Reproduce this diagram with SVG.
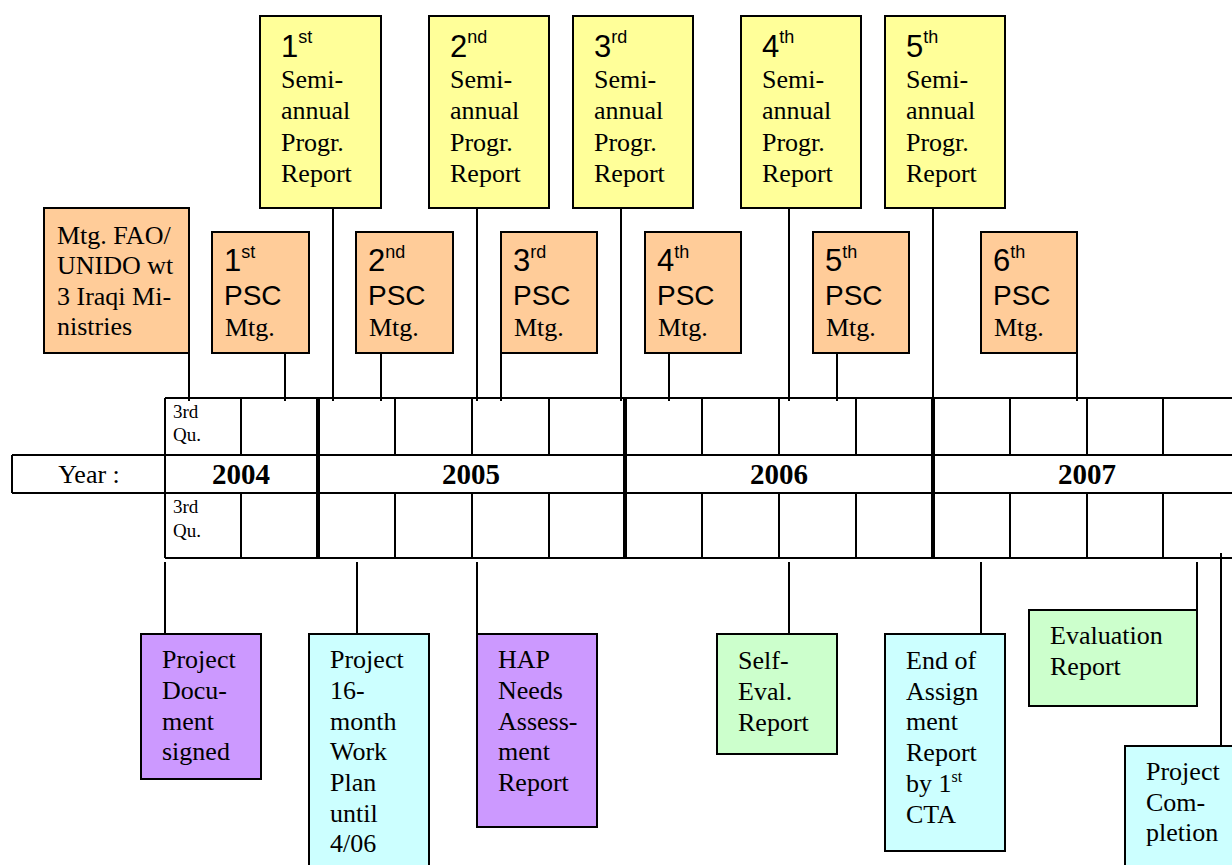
<svg xmlns="http://www.w3.org/2000/svg" width="1232" height="865" viewBox="0 0 1232 865">
<style>
.bx{stroke:#000;stroke-width:2}
.y{fill:#FFFF99}.o{fill:#FFCC99}.p{fill:#CC99FF}.c{fill:#CCFFFF}.g{fill:#CCFFCC}
.t{font-family:"Liberation Serif","Times New Roman",serif;font-size:26px;fill:#000}
.a{font-family:"Liberation Sans",Arial,sans-serif;fill:#000}
.d{font-size:31px}.s{font-size:18px}.psc{font-size:28px}
.q{font-family:"Liberation Serif","Times New Roman",serif;font-size:19px;fill:#000}
.yr{font-family:"Liberation Serif","Times New Roman",serif;font-size:29px;font-weight:bold;fill:#000;text-anchor:middle}
.ln{stroke:#000;stroke-width:2;fill:none}
.tk{stroke:#000;stroke-width:4;fill:none}
</style>
<rect width="1232" height="865" fill="#fff"/>

<g id="timeline">
<path class="ln" d="M165 398H1240M12 455H1240M12 493H1240M165 558H1240M12 455V493M165 398V558"/>
<path class="ln" d="M241 398V455M395 398V455M472 398V455M549 398V455M702 398V455M779 398V455M856 398V455M1010 398V455M1087 398V455M1163 398V455"/>
<path class="ln" d="M241 493V558M395 493V558M472 493V558M549 493V558M702 493V558M779 493V558M856 493V558M1010 493V558M1087 493V558M1163 493V558"/>
<path class="tk" d="M318 398V558M625 398V558M933 398V558"/>
<text class="q" x="173" y="418">3rd</text><text class="q" x="173" y="441">Qu.</text>
<text class="q" x="173" y="513">3rd</text><text class="q" x="173" y="537">Qu.</text>
<text class="t" x="89" y="483" text-anchor="middle" font-size="28">Year :</text>
<text class="yr" x="241" y="484">2004</text>
<text class="yr" x="471" y="484">2005</text>
<text class="yr" x="779" y="484">2006</text>
<text class="yr" x="1087" y="484">2007</text>
</g>

<g id="connectors">
<path class="ln" d="M189 353V401M285 353V401M333 208V401M381 353V401M477 208V401M501 353V401M621 208V401M669 353V401M789 208V401M837 353V401M933 208V401M1077 353V401"/>
<path class="ln" d="M165 562V634M357 562V634M477 562V634M789 562V634M981 562V634M1197 562V610M1221 553V746"/>
</g>

<g id="spr1"><rect class="bx y" x="260" y="16" width="121" height="192"/>
<text x="281" y="57"><tspan class="a d">1</tspan><tspan class="a s" dy="-14">st</tspan></text>
<text class="t" x="281" y="88">Semi-</text><text class="t" x="281" y="119">annual</text><text class="t" x="281" y="151">Progr.</text><text class="t" x="281" y="182">Report</text></g>

<g id="spr2"><rect class="bx y" x="429" y="16" width="120" height="192"/>
<text x="450" y="57"><tspan class="a d">2</tspan><tspan class="a s" dy="-14">nd</tspan></text>
<text class="t" x="450" y="88">Semi-</text><text class="t" x="450" y="119">annual</text><text class="t" x="450" y="151">Progr.</text><text class="t" x="450" y="182">Report</text></g>

<g id="spr3"><rect class="bx y" x="573" y="16" width="120" height="192"/>
<text x="594" y="57"><tspan class="a d">3</tspan><tspan class="a s" dy="-14">rd</tspan></text>
<text class="t" x="594" y="88">Semi-</text><text class="t" x="594" y="119">annual</text><text class="t" x="594" y="151">Progr.</text><text class="t" x="594" y="182">Report</text></g>

<g id="spr4"><rect class="bx y" x="741" y="16" width="120" height="192"/>
<text x="762" y="57"><tspan class="a d">4</tspan><tspan class="a s" dy="-14">th</tspan></text>
<text class="t" x="762" y="88">Semi-</text><text class="t" x="762" y="119">annual</text><text class="t" x="762" y="151">Progr.</text><text class="t" x="762" y="182">Report</text></g>

<g id="spr5"><rect class="bx y" x="885" y="16" width="120" height="192"/>
<text x="906" y="57"><tspan class="a d">5</tspan><tspan class="a s" dy="-14">th</tspan></text>
<text class="t" x="906" y="88">Semi-</text><text class="t" x="906" y="119">annual</text><text class="t" x="906" y="151">Progr.</text><text class="t" x="906" y="182">Report</text></g>

<g id="mtg-fao"><rect class="bx o" x="44" y="208" width="145" height="145"/>
<text class="t" x="57" y="244">Mtg. FAO/</text><text class="t" x="57" y="274">UNIDO wt</text><text class="t" x="57" y="305">3 Iraqi Mi-</text><text class="t" x="57" y="335">nistries</text></g>

<g id="psc1"><rect class="bx o" x="212" y="232" width="97" height="121"/>
<text x="224" y="271"><tspan class="a d">1</tspan><tspan class="a s" dy="-13">st</tspan></text>
<text class="a psc" x="224" y="305">PSC</text><text class="t" x="225" y="336">Mtg.</text></g>

<g id="psc2"><rect class="bx o" x="356" y="232" width="97" height="121"/>
<text x="368" y="271"><tspan class="a d">2</tspan><tspan class="a s" dy="-13">nd</tspan></text>
<text class="a psc" x="368" y="305">PSC</text><text class="t" x="369" y="336">Mtg.</text></g>

<g id="psc3"><rect class="bx o" x="501" y="232" width="96" height="121"/>
<text x="513" y="271"><tspan class="a d">3</tspan><tspan class="a s" dy="-13">rd</tspan></text>
<text class="a psc" x="513" y="305">PSC</text><text class="t" x="514" y="336">Mtg.</text></g>

<g id="psc4"><rect class="bx o" x="645" y="232" width="96" height="121"/>
<text x="657" y="271"><tspan class="a d">4</tspan><tspan class="a s" dy="-13">th</tspan></text>
<text class="a psc" x="657" y="305">PSC</text><text class="t" x="658" y="336">Mtg.</text></g>

<g id="psc5"><rect class="bx o" x="813" y="232" width="96" height="121"/>
<text x="825" y="271"><tspan class="a d">5</tspan><tspan class="a s" dy="-13">th</tspan></text>
<text class="a psc" x="825" y="305">PSC</text><text class="t" x="826" y="336">Mtg.</text></g>

<g id="psc6"><rect class="bx o" x="981" y="232" width="96" height="121"/>
<text x="993" y="271"><tspan class="a d">6</tspan><tspan class="a s" dy="-13">th</tspan></text>
<text class="a psc" x="993" y="305">PSC</text><text class="t" x="994" y="336">Mtg.</text></g>

<g id="proj-doc"><rect class="bx p" x="141" y="634" width="120" height="145"/>
<text class="t" x="162" y="668">Project</text><text class="t" x="162" y="699">Docu-</text><text class="t" x="162" y="730">ment</text><text class="t" x="162" y="760">signed</text></g>

<g id="work-plan"><rect class="bx c" x="309" y="634" width="120" height="240"/>
<text class="t" x="330" y="668">Project</text><text class="t" x="330" y="699">16-</text><text class="t" x="330" y="730">month</text><text class="t" x="330" y="760">Work</text><text class="t" x="330" y="791">Plan</text><text class="t" x="330" y="822">until</text><text class="t" x="330" y="852">4/06</text></g>

<g id="hap"><rect class="bx p" x="477" y="634" width="120" height="193"/>
<text class="t" x="498" y="668">HAP</text><text class="t" x="498" y="699">Needs</text><text class="t" x="498" y="730">Assess-</text><text class="t" x="498" y="760">ment</text><text class="t" x="498" y="791">Report</text></g>

<g id="self-eval"><rect class="bx g" x="717" y="634" width="120" height="120"/>
<text class="t" x="738" y="669">Self-</text><text class="t" x="738" y="700">Eval.</text><text class="t" x="738" y="731">Report</text></g>

<g id="end-assign"><rect class="bx c" x="885" y="634" width="120" height="217"/>
<text class="t" x="906" y="669">End of</text><text class="t" x="906" y="700">Assign</text><text class="t" x="906" y="730">ment</text><text class="t" x="906" y="761">Report</text>
<text class="t" x="906" y="792">by 1<tspan font-size="16" dy="-10">st</tspan></text><text class="t" x="906" y="823">CTA</text></g>

<g id="evaluation"><rect class="bx g" x="1029" y="610" width="168" height="96"/>
<text class="t" x="1050" y="644">Evaluation</text><text class="t" x="1050" y="675">Report</text></g>

<g id="completion"><rect class="bx c" x="1125" y="746" width="120" height="130"/>
<text class="t" x="1146" y="780">Project</text><text class="t" x="1146" y="811">Com-</text><text class="t" x="1146" y="841">pletion</text></g>
</svg>
